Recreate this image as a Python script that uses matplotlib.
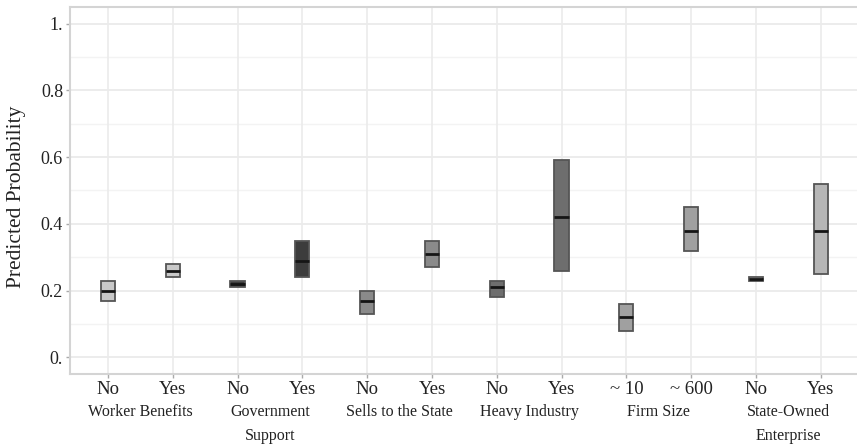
import matplotlib
matplotlib.use("Agg")
import matplotlib.pyplot as plt
import numpy as np

tick_labels = ["No", "Yes", "No", "Yes", "No", "Yes", "No", "Yes", "~ 10", "~ 600", "No", "Yes"]
groups = ["Worker Benefits", "Government\nSupport", "Sells to the State", "Heavy Industry",
          "Firm Size", "State-Owned\nEnterprise"]
lower = [0.17, 0.24, 0.21, 0.24, 0.13, 0.27, 0.18, 0.26, 0.08, 0.32, 0.230, 0.25]
upper = [0.23, 0.28, 0.23, 0.35, 0.20, 0.35, 0.23, 0.59, 0.16, 0.45, 0.242, 0.52]
median = [0.20, 0.26, 0.22, 0.29, 0.17, 0.31, 0.21, 0.42, 0.12, 0.38, 0.236, 0.38]
group_colors = ["#c8c8c8", "#3c3c3c", "#8a8a8a", "#6e6e6e", "#a0a0a0", "#b6b6b6"]

plt.rcParams['font.family'] = ['Liberation Serif', 'DejaVu Serif']

fig = plt.figure(figsize=(8.57, 4.45), dpi=100)
ax = fig.add_axes([70/857, 71/445, 1 - 70/857, (374-7)/445])

x = np.arange(1, len(tick_labels) + 1)
colors = [group_colors[i // 2] for i in range(len(tick_labels))]

ax.set_xlim(0.414, 12.56)
ax.set_ylim(-0.05, 1.05)

# grid
for yv in np.arange(0.1, 1.01, 0.2):
    ax.axhline(yv, color="#f3f3f3", lw=1.0, zorder=0)
for yv in np.arange(0.0, 1.01, 0.2):
    ax.axhline(yv, color="#e9e9e9", lw=1.2, zorder=0)
for xv in x:
    ax.axvline(xv, color="#ebebeb", lw=1.2, zorder=0)

heights = [u - l for u, l in zip(upper, lower)]
ax.bar(x, heights, bottom=lower, width=0.22, color=colors, edgecolor="#555555",
       linewidth=1.3, zorder=3)
ax.hlines(median, x - 0.11, x + 0.11, color="#151515", lw=2.0, zorder=4)

ax.set_yticks([0, 0.2, 0.4, 0.6, 0.8, 1.0])
ax.set_yticklabels(["0.", "0.2", "0.4", "0.6", "0.8", "1."], fontsize=13, color="#222222")
ax.set_xticks(x)
ax.set_xticklabels(tick_labels, fontsize=13.5, color="#222222")
ax.tick_params(axis="both", color="#aaaaaa", length=3, width=1)
ax.tick_params(axis="x", pad=2)
ax.tick_params(axis="y", pad=2)

ax.spines["right"].set_visible(False)
for s in ["left", "bottom", "top"]:
    ax.spines[s].set_color("#d4d4d4")
    ax.spines[s].set_linewidth(1.5)

ax.set_ylabel("Predicted Probability", fontsize=15.5, color="#222222")
ax.yaxis.set_label_coords(-0.056, 0.482)

for gi, g in enumerate(groups):
    cx = (x[2*gi] + x[2*gi+1]) / 2
    xf = ax.transData.transform((cx, 0))[0] / fig.dpi / fig.get_figwidth()
    fig.text(xf, (445 - 404) / 445, g, ha="center", va="top",
             fontsize=11.5, color="#222222", linespacing=1.7)

fig.savefig("out.png", dpi=100)
